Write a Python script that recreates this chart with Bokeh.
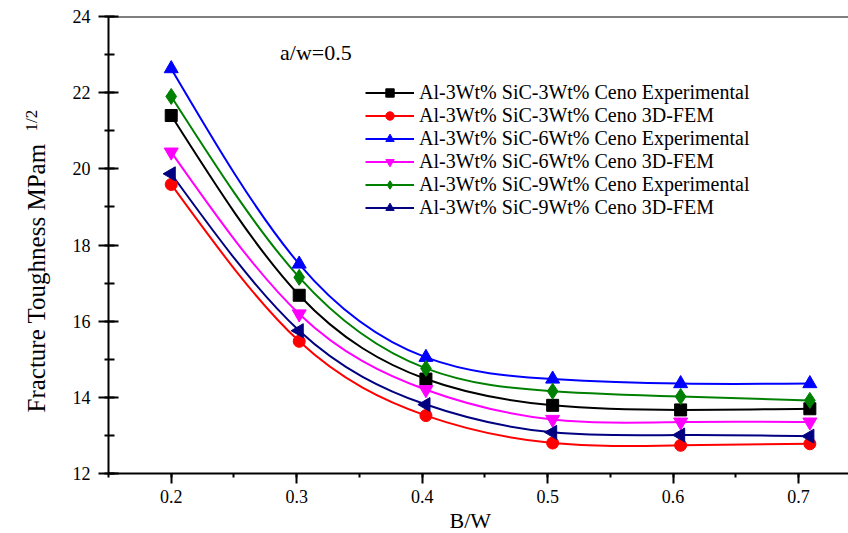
import math
import numpy as np
from bokeh.plotting import figure
from bokeh.models import Label, Span, SingleIntervalTicker, Range1d, Title
from bokeh.embed import file_html
from bokeh.resources import INLINE

# ---- data ----
bw = [0.2, 0.302, 0.403, 0.504, 0.606, 0.709]
labels = [
    "Al-3Wt% SiC-3Wt% Ceno Experimental",
    "Al-3Wt% SiC-3Wt% Ceno 3D-FEM",
    "Al-3Wt% SiC-6Wt% Ceno Experimental",
    "Al-3Wt% SiC-6Wt% Ceno 3D-FEM",
    "Al-3Wt% SiC-9Wt% Ceno Experimental",
    "Al-3Wt% SiC-9Wt% Ceno 3D-FEM",
]
sic3_exp = [21.40, 16.68, 14.48, 13.79, 13.67, 13.70]
sic3_fem = [19.59, 15.47, 13.52, 12.80, 12.74, 12.78]
sic6_exp = [22.63, 17.50, 15.05, 14.48, 14.36, 14.36]
sic6_fem = [20.44, 16.19, 14.20, 13.42, 13.35, 13.35]
sic9_exp = [21.90, 17.15, 14.76, 14.16, 14.02, 13.92]
sic9_fem = [19.87, 15.75, 13.81, 13.08, 13.01, 12.98]
series = [sic3_exp, sic3_fem, sic6_exp, sic6_fem, sic9_exp, sic9_fem]

colors = ["#000000", "#FF0000", "#0000FF", "#FF00FF", "#008000", "#000080"]
markers = ["square", "circle", "triangle", "inverted_triangle", "diamond", "triangle"]
angles = [0, 0, 0, 0, 0, math.pi / 2]
msizes = [12, 12, 14, 14, 16, 14]

FONT = "Liberation Serif"


def spline_controls(x, y):
    """Cubic Bezier control points of a natural cubic spline through (x, y)."""
    x = np.asarray(x, float)
    y = np.asarray(y, float)
    n = len(x)
    h = np.diff(x)
    A = np.zeros((n, n))
    b = np.zeros(n)
    A[0, 0] = 1
    A[-1, -1] = 1
    for i in range(1, n - 1):
        A[i, i - 1] = h[i - 1]
        A[i, i] = 2 * (h[i - 1] + h[i])
        A[i, i + 1] = h[i]
        b[i] = 6 * ((y[i + 1] - y[i]) / h[i] - (y[i] - y[i - 1]) / h[i - 1])
    M = np.linalg.solve(A, b)
    m = np.zeros(n)
    for i in range(n - 1):
        m[i] = (y[i + 1] - y[i]) / h[i] - h[i] * (2 * M[i] + M[i + 1]) / 6
    m[-1] = (y[-1] - y[-2]) / h[-1] + h[-1] * (M[-2] + 2 * M[-1]) / 6
    x0, x1 = x[:-1], x[1:]
    y0, y1 = y[:-1], y[1:]
    return dict(x0=x0, y0=y0, x1=x1, y1=y1,
                cx0=x0 + h / 3, cy0=y0 + m[:-1] * h / 3,
                cx1=x1 - h / 3, cy1=y1 - m[1:] * h / 3)


p = figure(
    width=848, height=533,
    output_backend="svg", toolbar_location=None,
    x_range=Range1d(0.15, 0.7398), y_range=Range1d(12, 24),
    min_border_left=106, min_border_right=0, min_border_top=16, min_border_bottom=60,
    background_fill_color="white", border_fill_color="white",
)
p.outline_line_color = None
p.grid.visible = False

# curves
for ys, c, lab in zip(series, colors, labels):
    cp = spline_controls(bw, ys)
    p.bezier(x0=cp["x0"], y0=cp["y0"], x1=cp["x1"], y1=cp["y1"],
             cx0=cp["cx0"], cy0=cp["cy0"], cx1=cp["cx1"], cy1=cp["cy1"],
             line_color=c, line_width=2, legend_label=lab)

# markers
for ys, c, mk, ang, sz, lab in zip(series, colors, markers, angles, msizes, labels):
    p.scatter(bw, ys, marker=mk, angle=ang, size=sz, fill_color=c,
              line_color=c, legend_label=lab)

# axes
xa = p.xaxis[0]
xa.ticker = SingleIntervalTicker(interval=0.1, num_minor_ticks=2)
xa.major_tick_in = 0
xa.major_tick_out = 10
xa.minor_tick_in = 0
xa.minor_tick_out = 4
xa.major_label_standoff = 6

ya = p.yaxis[0]
ya.ticker = SingleIntervalTicker(interval=2, num_minor_ticks=2)
ya.major_tick_in = 10
ya.major_tick_out = 10
ya.minor_tick_in = 6
ya.minor_tick_out = 4
ya.major_label_standoff = 8

for ax in (xa, ya):
    ax.axis_line_width = 2
    ax.axis_line_color = "black"
    ax.major_tick_line_width = 2
    ax.minor_tick_line_width = 2
    ax.major_tick_line_color = "black"
    ax.minor_tick_line_color = "black"
    ax.major_label_text_font = FONT
    ax.major_label_text_font_size = "18px"
    ax.major_label_text_color = "black"

# top frame line
p.add_layout(Span(location=24, dimension="width", line_color="black", line_width=2))

# axis titles
p.add_layout(Title(text="Fracture Toughness MPam", align="left", offset=61,
                   text_font=FONT, text_font_size="25px", text_font_style="normal",
                   text_color="black", standoff=40), "left")
p.add_layout(Title(text="1/2", align="left", offset=342,
                   text_font=FONT, text_font_size="17px", text_font_style="normal",
                   text_color="black", standoff=-80), "left")
p.add_layout(Title(text="B/W", align="left", offset=341,
                   text_font=FONT, text_font_size="22px", text_font_style="normal",
                   text_color="black", standoff=0), "below")

# annotation
p.add_layout(Label(x=0.2867, y=23.055, text="a/w=0.5", text_font=FONT,
                   text_font_size="22px", text_align="left",
                   text_baseline="middle", text_color="black"))

# legend
lg = p.legend[0]
lg.location = (257, 254)
lg.padding = 0
lg.margin = 0
lg.spacing = 0
lg.border_line_color = None
lg.background_fill_alpha = 0
lg.label_text_font = FONT
lg.label_text_font_size = "20px"
lg.label_text_color = "black"
lg.label_height = 21
lg.glyph_height = 21
lg.glyph_width = 49
lg.label_standoff = 5

open("out.html", "w").write(file_html(p, INLINE))
